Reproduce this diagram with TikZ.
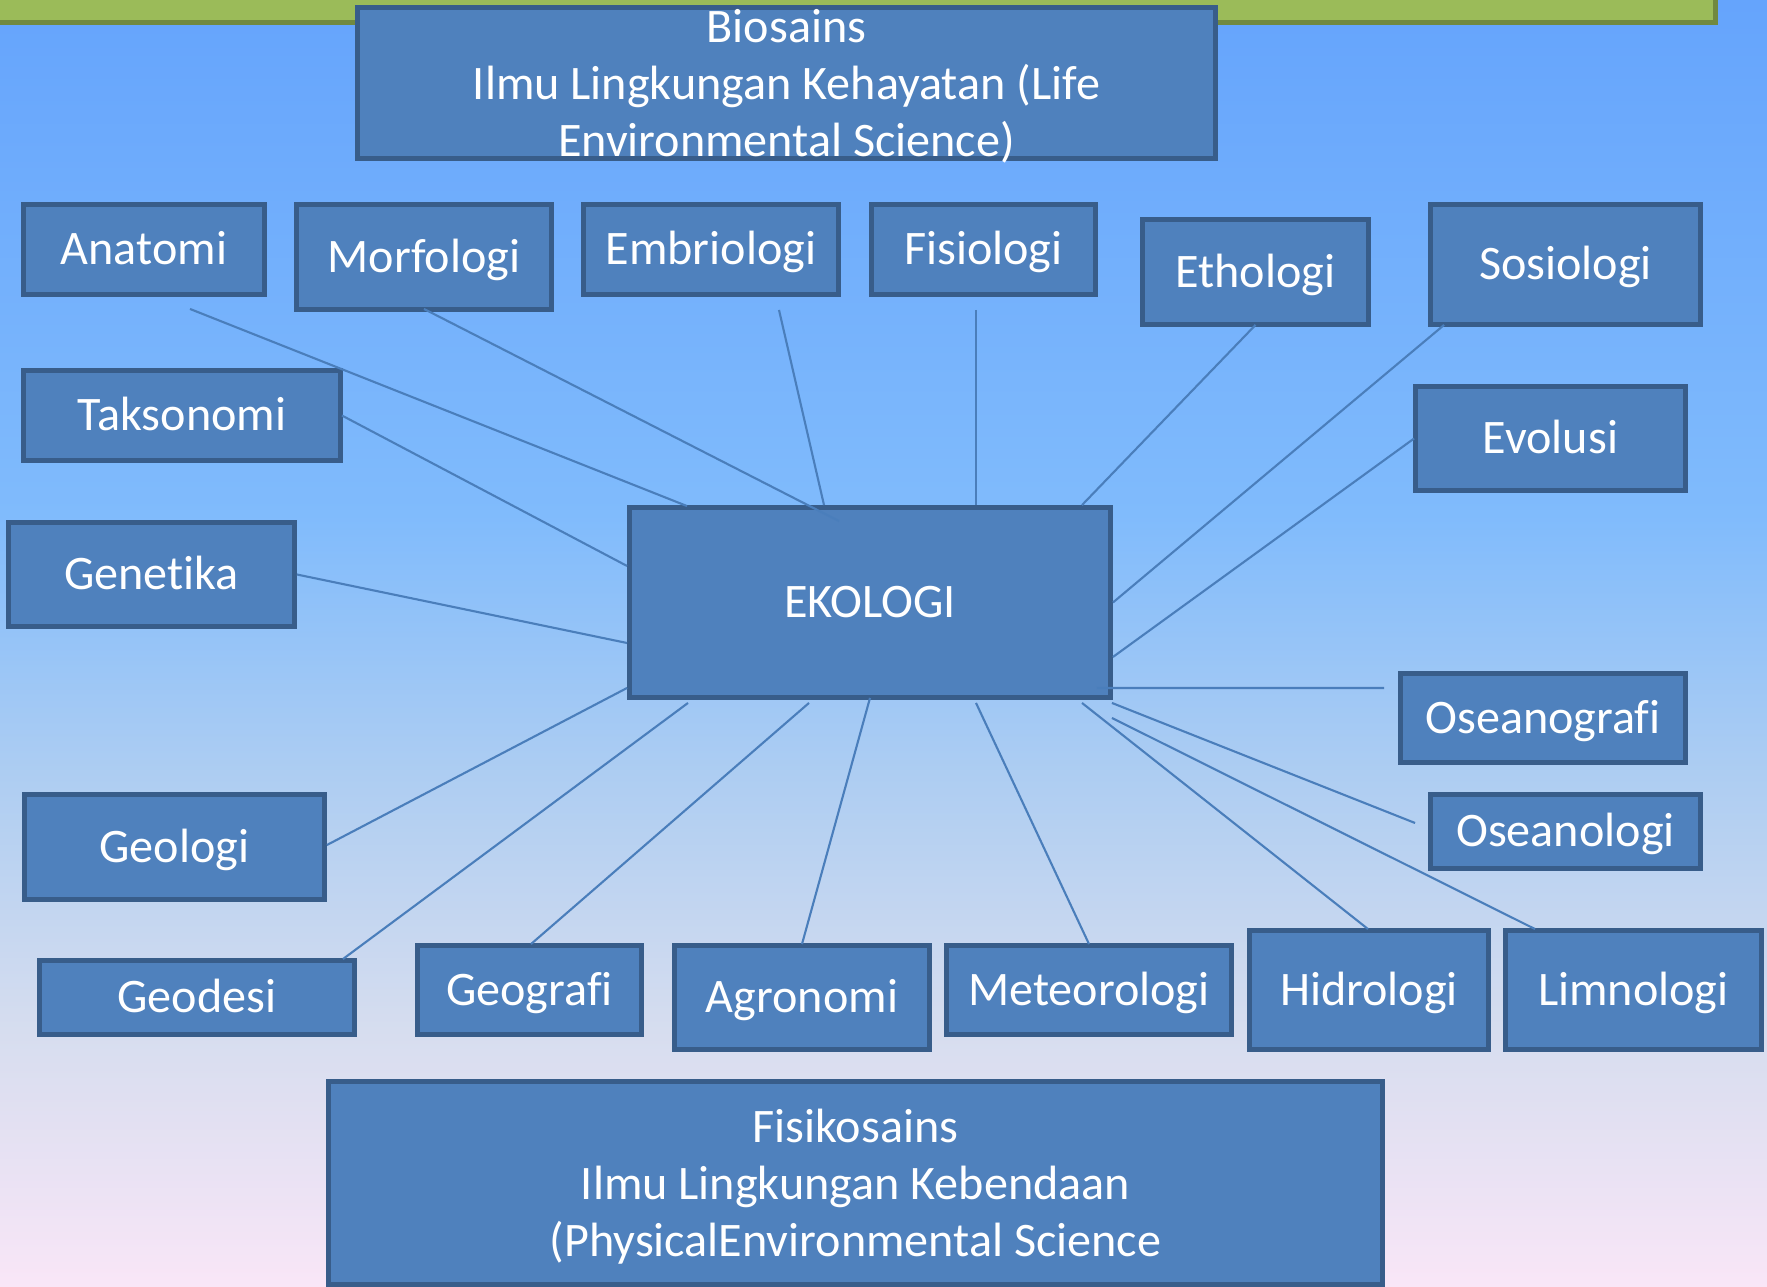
\documentclass[tikz,border=0pt]{standalone}
\usepackage{xcolor}
\usepackage{tikz}
\usepackage{fontspec}
\setmainfont{Carlito}[Ligatures=CommonOff]
\definecolor{boxcolor}{HTML}{4F81BD}
\definecolor{edgecolor}{HTML}{385D8A}
\definecolor{linecolor}{HTML}{4A7EBB}
\definecolor{barcolor}{HTML}{9BBB59}
\definecolor{bardark}{HTML}{71893F}
\definecolor{skytop}{HTML}{65A4FC}
\definecolor{skyblue}{HTML}{80BBFC}
\definecolor{skypale}{HTML}{ADCDF2}
\definecolor{skylav}{HTML}{D6DDEF}
\definecolor{skybottom}{HTML}{F9E6F7}
\pgfdeclareverticalshading{sky}{100bp}{color(0bp)=(skybottom); color(25bp)=(skybottom); color(35bp)=(skylav); color(45bp)=(skypale); color(55bp)=(skyblue); color(75bp)=(skytop); color(100bp)=(skytop)}
\tikzset{
  topicbox/.style={draw=edgecolor, line width=2.8pt, fill=boxcolor, text=white, rectangle, align=center, font=\fontsize{27.4pt}{32.5pt}\selectfont},
  wordbox/.style={topicbox, text height=17.6pt, text depth=0pt},
  branch/.style={draw=linecolor, line width=1.2pt},
}
% three lines, first baseline 23.2pt above the box centre
\newcommand{\threelines}[1]{\raisebox{23.2pt}[0pt][0pt]{\begin{tabular}[t]{@{}c@{}}#1\end{tabular}}}

\begin{document}
\begin{tikzpicture}[x=0.02cm, y=-0.02cm]%
\useasboundingbox (0,0) rectangle (1767,1287);%
\shade[shading=sky] (0,0) rectangle (1767,1287);%
\fill[bardark] (0,0) rectangle (1718,25);%
\fill[barcolor] (0,0) rectangle (1713,20);%
% the two families of science
\node[topicbox, minimum width=17.16cm, minimum height=3.02cm] (bio) at (786.5, 83) {\threelines{Biosains\\Ilmu Lingkungan Kehayatan (Life\\Environmental Science)}};%
\node[topicbox, minimum width=21.08cm, minimum height=4.06cm] (fisiko) at (855.5, 1183) {\threelines{Fisikosains\\Ilmu Lingkungan Kebendaan\\(PhysicalEnvironmental Science}};%
% centre
\node[wordbox, minimum width=9.62cm, minimum height=3.80cm] (ekologi) at (870, 602.5) {EKOLOGI};%
% upper branches
\node[wordbox, minimum width=4.82cm, minimum height=1.80cm] (anatomi) at (144, 249.5) {Anatomi};%
\node[wordbox, minimum width=5.10cm, minimum height=2.10cm] (morfologi) at (424, 257) {Morfologi};%
\node[wordbox, minimum width=5.10cm, minimum height=1.80cm] (embriologi) at (711, 249.5) {Embriologi};%
\node[wordbox, minimum width=4.48cm, minimum height=1.80cm] (fisiologi) at (983.5, 249.5) {Fisiologi};%
\node[wordbox, minimum width=4.52cm, minimum height=2.10cm] (ethologi) at (1255.5, 272) {Ethologi};%
\node[wordbox, minimum width=5.40cm, minimum height=2.40cm] (sosiologi) at (1565.5, 264.5) {Sosiologi};%
\node[wordbox, minimum width=6.34cm, minimum height=1.80cm] (taksonomi) at (182, 415.5) {Taksonomi};%
\node[wordbox, minimum width=5.40cm, minimum height=2.08cm] (evolusi) at (1550.5, 438.5) {Evolusi};%
\node[wordbox, minimum width=5.72cm, minimum height=2.08cm] (genetika) at (151.5, 574.5) {Genetika};%
% lower branches
\node[wordbox, minimum width=5.70cm, minimum height=1.78cm] (oseanografi) at (1543, 718) {Oseanografi};%
\node[wordbox, minimum width=5.40cm, minimum height=1.48cm] (oseanologi) at (1565.5, 831.5) {Oseanologi};%
\node[wordbox, minimum width=6.00cm, minimum height=2.10cm] (geologi) at (174.5, 847) {Geologi};%
\node[wordbox, minimum width=6.30cm, minimum height=1.48cm] (geodesi) at (197, 997.5) {Geodesi};%
\node[wordbox, minimum width=4.48cm, minimum height=1.78cm] (geografi) at (529.5, 990) {Geografi};%
\node[wordbox, minimum width=5.10cm, minimum height=2.08cm] (agronomi) at (802, 997.5) {Agronomi};%
\node[wordbox, minimum width=5.70cm, minimum height=1.78cm] (meteorologi) at (1089, 990) {Meteorologi};%
\node[wordbox, minimum width=4.78cm, minimum height=2.38cm] (hidrologi) at (1369, 990) {Hidrologi};%
\node[wordbox, minimum width=5.12cm, minimum height=2.38cm] (limnologi) at (1633.5, 990) {Limnologi};%
% connectors to the centre
\draw[branch] ([shift={(46,12)}]anatomi.south) -- ([shift={(-183,1)}]ekologi.north);%
\draw[branch] ([shift={(0,-3)}]morfologi.south) -- ([shift={(-31,16)}]ekologi.north);%
\draw[branch] ([shift={(68,13)}]embriologi.south) -- ([shift={(-46,0)}]ekologi.north);%
\draw[branch] ([shift={(-7.5,13)}]fisiologi.south) -- ([shift={(106,0)}]ekologi.north);%
\draw[branch] ([shift={(0,-2)}]ethologi.south) -- ([shift={(212,0)}]ekologi.north);%
\draw[branch] ([shift={(16,-2)}]sosiologi.south west) -- (ekologi.east);%
\draw[branch] ([shift={(1,0)}]evolusi.west) -- ([shift={(0,54.5)}]ekologi.east);%
\draw[branch] ([shift={(-1,0)}]taksonomi.east) -- ([shift={(0,-36.5)}]ekologi.west);%
\draw[branch] (genetika.east) -- ([shift={(0,40.5)}]ekologi.west);%
\draw[branch] ([shift={(-16,-12)}]ekologi.south east) -- ([shift={(-14,-30)}]oseanografi.west);%
\draw[branch] ([shift={(-1,3)}]ekologi.south east) -- ([shift={(-13,-8.5)}]oseanologi.west);%
\draw[branch] ([shift={(-1,18)}]ekologi.south east) -- ([shift={(-98.5,1)}]limnologi.north);%
\draw[branch] ([shift={(212,3)}]ekologi.south) -- ([shift={(-1,1)}]hidrologi.north);%
\draw[branch] ([shift={(106,3)}]ekologi.south) -- ([shift={(0,1)}]meteorologi.north);%
\draw[branch] ([shift={(0,-2)}]ekologi.south) -- ([shift={(0,1)}]agronomi.north);%
\draw[branch] ([shift={(-61,3)}]ekologi.south) -- ([shift={(1.5,1)}]geografi.north);%
\draw[branch] ([shift={(-182,3)}]ekologi.south) -- ([shift={(-14,1)}]geodesi.north east);%
\draw[branch] ([shift={(0,-12)}]ekologi.south west) -- ([shift={(0,-2)}]geologi.east);%
\end{tikzpicture}
\end{document}
